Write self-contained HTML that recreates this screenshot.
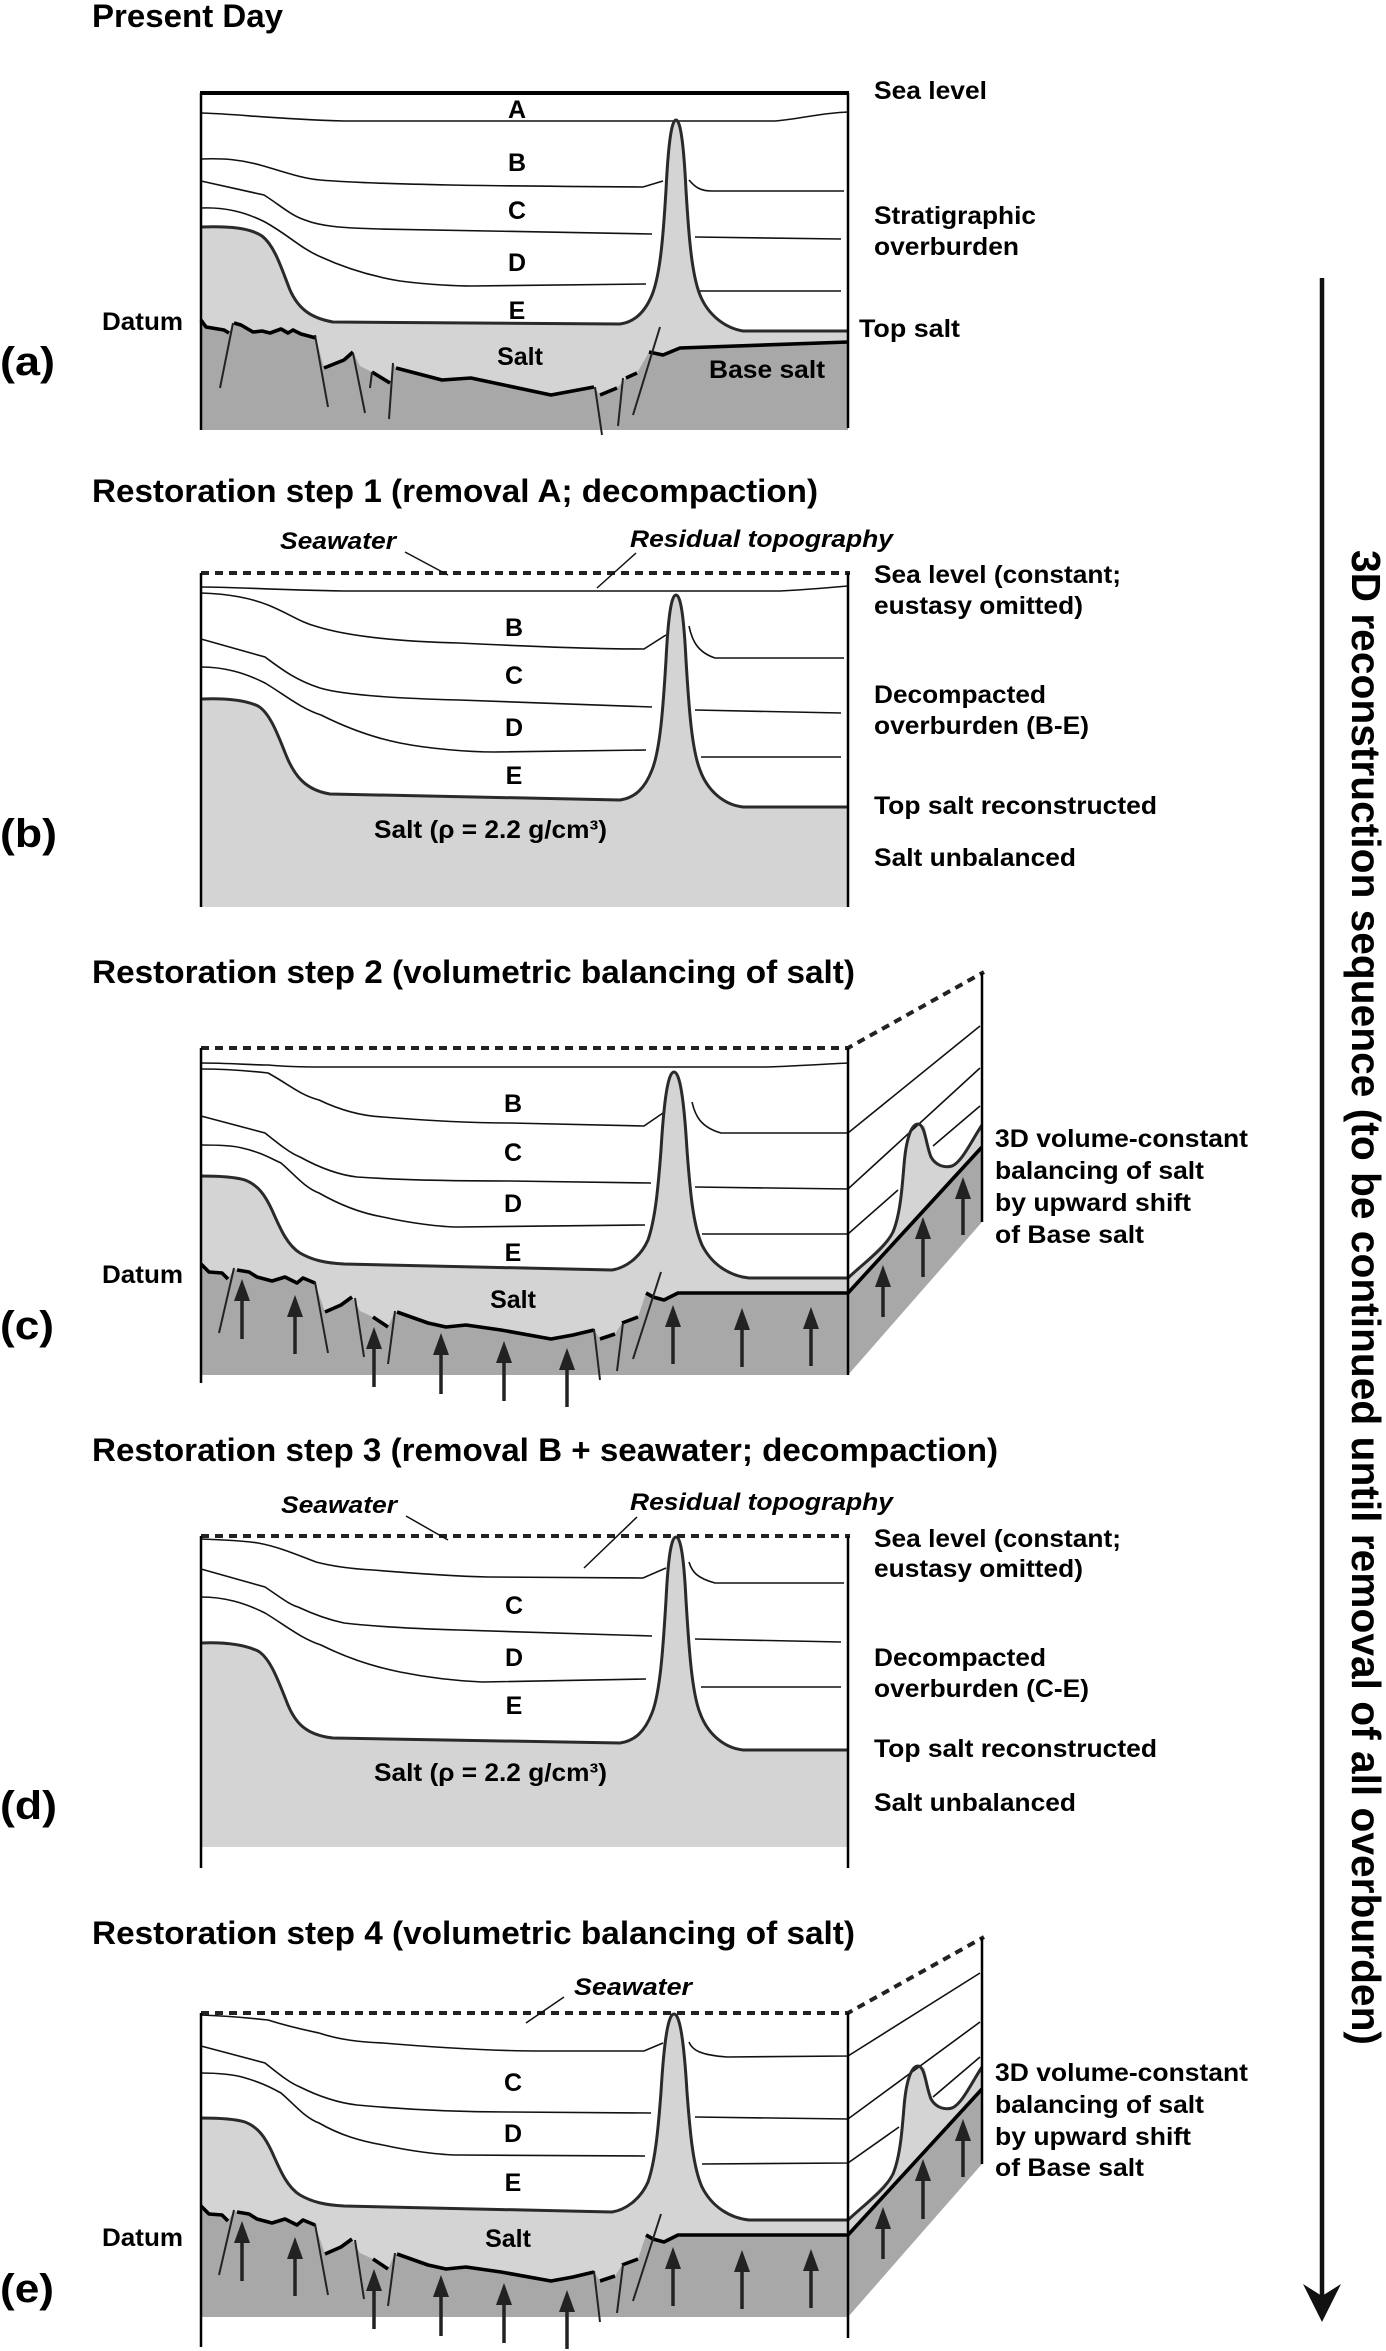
<!DOCTYPE html>
<html><head><meta charset="utf-8">
<style>
html,body{margin:0;padding:0;background:#fff}
svg{display:block}
.ln{fill:none;stroke:#111;stroke-width:1.6}
.ts{fill:none;stroke:#2a2a2a;stroke-width:3;stroke-linejoin:round}
.bs{fill:none;stroke:#000;stroke-width:3.6;stroke-linejoin:round}
.ft{fill:none;stroke:#222;stroke-width:2}
.bx{fill:none;stroke:#000;stroke-width:2.5}
.ds{fill:none;stroke:#222;stroke-width:4;stroke-dasharray:8 6}
.lg{fill:#d4d4d4}
.dg{fill:#a8a8a8}
.ar line{stroke:#222;stroke-width:3.5}
.ar polygon{fill:#222}
.ld{fill:none;stroke:#111;stroke-width:1.5}
text{font-family:"Liberation Sans",Arial,sans-serif;font-weight:bold;fill:#000}
.t{font-size:32px}
.l{font-size:25px}
.i{font-size:24px;font-style:italic}
.p{font-size:40px}
.c{text-anchor:middle}
</style></head>
<body>
<svg width="1386" height="2351" viewBox="0 0 1386 2351" xmlns="http://www.w3.org/2000/svg">

<!-- ============ PANEL A ============ -->
<text class="t" x="92" y="27" textLength="191" lengthAdjust="spacingAndGlyphs">Present Day</text>
<path class="lg" d="M201,227 C230,226 250,228 262,236 C275,246 282,270 290,290 C298,308 310,318 333,322 L620,324 C635,322 645,312 652,295 C660,275 663,240 666,190 C668,150 671,120 676,120 C681,120 684,150 686,190 C689,240 692,275 700,295 C708,315 725,328 743,331 L848,331 L848,430 L201,430 Z"/>
<polygon class="dg" points="201,320 206,327 212,328 224,330 229,333 233,323 241,325 253,332 262,331 270,333 281,329 288,333 293,330 301,334 316,338 324,368 344,360 353,352 360,366 372,372 390,383 393,363 396,368 442,380 471,378 551,395 594,387 600,395 617,388 626,378 637,373 649,352 663,355 680,348 848,342 848,430 201,430"/>
<path class="ln" d="M201,113 C240,114 270,119 344,121 L775,121 C800,119 820,113 848,112"/>
<path class="ln" d="M201,159 C225,158 242,160 260,165 C285,172 300,178 320,180 C380,185 500,186 643,187 L663,181"/>
<path class="ln" d="M689,180 C695,187 700,191 712,191 L844,191"/>
<path class="ln" d="M201,181 L264,195 C280,205 290,215 305,220 C320,226 340,228 380,229 L652,234"/>
<path class="ln" d="M695,237 L841,239"/>
<path class="ln" d="M201,208 C225,207 245,212 265,222 C290,236 300,248 321,257 C345,268 370,276 400,281 C430,285 460,286 471,286 L646,284"/>
<path class="ln" d="M700,291 L841,291"/>
<path class="ts" d="M201,227 C230,226 250,228 262,236 C275,246 282,270 290,290 C298,308 310,318 333,322 L620,324 C635,322 645,312 652,295 C660,275 663,240 666,190 C668,150 671,120 676,120 C681,120 684,150 686,190 C689,240 692,275 700,295 C708,315 725,328 743,331 L848,331"/>
<path class="bs" d="M201,320 L206,327 L212,328 L224,330 L229,333 M234,323 L241,325 L253,332 L262,331 L270,333 L281,329 L288,333 L293,330 L301,334 L316,338 M324,368 L344,360 L353,352 M372,372 L390,383 M396,368 L442,380 L471,378 L551,395 L594,387 M600,395 L617,388 M626,378 L637,373 M649,352 L663,355 L680,348 L848,342"/>
<path class="ft" d="M233,323 L220,388 M315,335 L328,407 M353,353 L365,413 M372,372 L370,388 M393,363 L389,419 M595,387 L602,435 M623,378 L618,426 M660,327 L633,415"/>
<line x1="200" y1="93" x2="849" y2="93" stroke="#000" stroke-width="4"/>
<line class="bx" x1="201" y1="93" x2="201" y2="430"/>
<line class="bx" x1="848" y1="93" x2="848" y2="428"/>
<text class="l c" x="517" y="118">A</text>
<text class="l c" x="517" y="171">B</text>
<text class="l c" x="517" y="219">C</text>
<text class="l c" x="517" y="271">D</text>
<text class="l c" x="517" y="319">E</text>
<text class="l c" x="520" y="365">Salt</text>
<text class="l" x="709" y="378" textLength="116" lengthAdjust="spacingAndGlyphs">Base salt</text>
<text class="l" x="102" y="330" textLength="81" lengthAdjust="spacingAndGlyphs">Datum</text>
<text class="p" x="0" y="375" textLength="55" lengthAdjust="spacingAndGlyphs">(a)</text>
<text class="l" x="874" y="99" textLength="113" lengthAdjust="spacingAndGlyphs">Sea level</text>
<text class="l" x="874" y="224" textLength="162" lengthAdjust="spacingAndGlyphs">Stratigraphic</text>
<text class="l" x="874" y="255" textLength="145" lengthAdjust="spacingAndGlyphs">overburden</text>
<text class="l" x="859" y="337" textLength="101" lengthAdjust="spacingAndGlyphs">Top salt</text>

<!-- ============ PANEL B ============ -->
<text class="t" x="92" y="502" textLength="726" lengthAdjust="spacingAndGlyphs">Restoration step 1 (removal A; decompaction)</text>
<path class="lg" d="M201,699 C225,698 245,700 258,706 C270,713 278,735 286,755 C294,775 305,790 330,794 L620,800 C635,798 645,788 652,770 C660,750 663,710 666,660 C668,620 671,595 676,595 C681,595 684,620 686,660 C689,710 692,750 700,770 C708,792 725,805 743,807 L848,807 L848,907 L201,907 Z"/>
<path class="ln" d="M201,587 C240,587 270,590 344,591 L780,591 C800,590 825,588 848,586"/>
<path class="ln" d="M201,593 C230,594 250,598 268,605 C290,614 300,622 315,626 C340,634 380,641 459,643 C520,646 600,649 644,649 L666,635"/>
<path class="ln" d="M689,626 C692,640 697,652 715,658 L844,658"/>
<path class="ln" d="M201,639 L265,657 C280,668 295,680 320,688 C340,694 380,698 459,700 L652,707"/>
<path class="ln" d="M695,710 L841,713"/>
<path class="ln" d="M201,667 C225,667 245,673 265,683 C285,695 300,708 321,715 C345,727 370,737 400,743 C430,749 470,752 494,752 L646,750"/>
<path class="ln" d="M701,757 L841,757"/>
<path class="ts" d="M201,699 C225,698 245,700 258,706 C270,713 278,735 286,755 C294,775 305,790 330,794 L620,800 C635,798 645,788 652,770 C660,750 663,710 666,660 C668,620 671,595 676,595 C681,595 684,620 686,660 C689,710 692,750 700,770 C708,792 725,805 743,807 L848,807"/>
<line class="ds" x1="201" y1="573" x2="850" y2="573"/>
<line class="bx" x1="201" y1="573" x2="201" y2="907"/>
<line class="bx" x1="848" y1="573" x2="848" y2="907"/>
<path class="ld" d="M405,552 L448,575 M636,553 L597,588"/>
<text class="i" x="280" y="549" textLength="116" lengthAdjust="spacingAndGlyphs">Seawater</text>
<text class="i" x="630" y="547" textLength="263" lengthAdjust="spacingAndGlyphs">Residual topography</text>
<text class="l c" x="514" y="636">B</text>
<text class="l c" x="514" y="684">C</text>
<text class="l c" x="514" y="736">D</text>
<text class="l c" x="514" y="784">E</text>
<text class="l" x="374" y="838" textLength="233" lengthAdjust="spacingAndGlyphs">Salt (ρ = 2.2 g/cm³)</text>
<text class="p" x="0" y="847" textLength="57" lengthAdjust="spacingAndGlyphs">(b)</text>
<text class="l" x="874" y="583" textLength="247" lengthAdjust="spacingAndGlyphs">Sea level (constant;</text>
<text class="l" x="874" y="614" textLength="209" lengthAdjust="spacingAndGlyphs">eustasy omitted)</text>
<text class="l" x="874" y="703" textLength="172" lengthAdjust="spacingAndGlyphs">Decompacted</text>
<text class="l" x="874" y="734" textLength="215" lengthAdjust="spacingAndGlyphs">overburden (B-E)</text>
<text class="l" x="874" y="814" textLength="283" lengthAdjust="spacingAndGlyphs">Top salt reconstructed</text>
<text class="l" x="874" y="866" textLength="202" lengthAdjust="spacingAndGlyphs">Salt unbalanced</text>

<!-- ============ PANEL C ============ -->
<text class="t" x="92" y="983" textLength="763" lengthAdjust="spacingAndGlyphs">Restoration step 2 (volumetric balancing of salt)</text>
<g>
<path class="lg" d="M201,1176 C220,1176 235,1177 245,1180 C258,1185 265,1195 272,1210 C280,1228 287,1245 300,1253 C312,1260 325,1263 344,1264 L612,1270 C625,1268 640,1258 648,1240 C655,1220 658,1190 661,1150 C664,1100 668,1072 674,1072 C680,1072 684,1100 687,1150 C690,1190 693,1225 702,1245 C712,1265 730,1276 749,1278 L848,1278 L848,1375 L201,1375 Z"/>
<polygon class="dg" points="201,1264 209,1272 222,1273 228,1279 234,1269 237,1270 249,1272 257,1277 272,1281 285,1277 297,1283 303,1278 315,1283 325,1312 341,1305 352,1297 360,1311 373,1317 388,1327 395,1311 397,1312 428,1323 446,1327 466,1325 501,1330 551,1339 573,1335 594,1330 600,1339 615,1334 622,1323 638,1317 646,1293 653,1297 664,1300 678,1293 848,1293 848,1375 201,1375"/>
<polygon class="lg" points="848,1278 883,1243 893,1232 900,1210 904,1165 911,1130 918,1124 925,1126 931,1157 940,1166 952,1166 962,1158 972,1140 982,1125 982,1147 848,1293"/>
<polygon class="dg" points="848,1293 982,1147 982,1222 848,1375"/>
</g>
<path class="ln" d="M201,1063 C230,1063 250,1065 268,1065 C290,1067 310,1067 332,1067 L765,1067 C800,1066 825,1064 848,1063"/>
<path class="ln" d="M201,1069 C230,1069 250,1071 268,1073 C290,1085 300,1095 319,1100 C340,1110 360,1116 383,1117 C420,1120 470,1123 510,1123 L644,1126 L663,1113"/>
<path class="ln" d="M692,1102 C695,1115 700,1127 721,1133 L848,1133 L980,1026"/>
<path class="ln" d="M201,1116 L265,1133 C280,1145 290,1153 300,1157 C320,1168 340,1175 357,1177 C400,1180 450,1181 510,1181 L651,1183"/>
<path class="ln" d="M695,1187 L848,1189 L980,1068"/>
<path class="ln" d="M201,1145 C220,1145 235,1146 242,1148 C260,1152 270,1158 281,1163 C295,1175 305,1188 319,1193 C340,1205 360,1213 383,1217 C410,1223 440,1227 459,1227 L645,1225"/>
<path class="ln" d="M702,1234 L848,1234 L898,1190 M933,1146 L980,1106"/>
<g>
<path class="ts" d="M201,1176 C220,1176 235,1177 245,1180 C258,1185 265,1195 272,1210 C280,1228 287,1245 300,1253 C312,1260 325,1263 344,1264 L612,1270 C625,1268 640,1258 648,1240 C655,1220 658,1190 661,1150 C664,1100 668,1072 674,1072 C680,1072 684,1100 687,1150 C690,1190 693,1225 702,1245 C712,1265 730,1276 749,1278 L848,1278"/>
<path class="ts" d="M848,1278 C865,1262 885,1248 893,1232 C900,1215 902,1190 904,1165 C906,1140 911,1124 918,1124 C925,1124 926,1145 931,1157 C936,1166 945,1168 952,1166 C962,1162 972,1140 982,1125"/>
<path class="bs" d="M201,1264 L209,1272 L222,1273 L228,1279 M237,1270 L249,1272 L257,1277 L272,1281 L285,1277 L297,1283 L303,1278 L315,1283 M325,1312 L341,1305 L352,1297 M373,1317 L388,1327 M397,1312 L428,1323 L446,1327 L466,1325 L501,1330 L551,1339 L573,1335 L594,1330 M600,1339 L615,1334 M622,1323 L638,1317 M646,1293 L653,1297 L664,1300 L678,1293 L848,1293 L982,1147"/>
<path class="ft" d="M234,1268 L219,1333 M315,1282 L328,1353 M355,1298 L364,1357 M395,1311 L388,1364 M594,1329 L600,1380 M623,1323 L617,1371 M661,1272 L633,1359"/>
<g class="ar">
<line x1="242" y1="1339" x2="242" y2="1295"/><polygon points="234,1301 242,1279 250,1301"/>
<line x1="295" y1="1354" x2="295" y2="1311"/><polygon points="287,1317 295,1295 303,1317"/>
<line x1="374" y1="1387" x2="374" y2="1343"/><polygon points="366,1349 374,1327 382,1349"/>
<line x1="441" y1="1394" x2="441" y2="1349"/><polygon points="433,1355 441,1333 449,1355"/>
<line x1="504" y1="1401" x2="504" y2="1357"/><polygon points="496,1363 504,1341 512,1363"/>
<line x1="567" y1="1407" x2="567" y2="1364"/><polygon points="559,1370 567,1348 575,1370"/>
<line x1="673" y1="1364" x2="673" y2="1321"/><polygon points="665,1327 673,1305 681,1327"/>
<line x1="742" y1="1367" x2="742" y2="1324"/><polygon points="734,1330 742,1308 750,1330"/>
<line x1="811" y1="1366" x2="811" y2="1323"/><polygon points="803,1329 811,1307 819,1329"/>
<line x1="883" y1="1317" x2="883" y2="1281"/><polygon points="875,1287 883,1265 891,1287"/>
<line x1="923" y1="1277" x2="923" y2="1233"/><polygon points="915,1239 923,1217 931,1239"/>
<line x1="963" y1="1235" x2="963" y2="1193"/><polygon points="955,1199 963,1177 971,1199"/>
</g>
</g>
<path class="ds" d="M201,1048 L848,1048 L984,972"/>
<line class="bx" x1="201" y1="1048" x2="201" y2="1383"/>
<line class="bx" x1="848" y1="1048" x2="848" y2="1375"/>
<line class="bx" x1="982" y1="973" x2="982" y2="1222"/>
<text class="l c" x="513" y="1112">B</text>
<text class="l c" x="513" y="1161">C</text>
<text class="l c" x="513" y="1212">D</text>
<text class="l c" x="513" y="1261">E</text>
<text class="l c" x="513" y="1308">Salt</text>
<text class="l" x="102" y="1283" textLength="81" lengthAdjust="spacingAndGlyphs">Datum</text>
<text class="p" x="0" y="1339" textLength="54" lengthAdjust="spacingAndGlyphs">(c)</text>
<text class="l" x="995" y="1147" textLength="253" lengthAdjust="spacingAndGlyphs">3D volume-constant</text>
<text class="l" x="995" y="1179" textLength="209" lengthAdjust="spacingAndGlyphs">balancing of salt</text>
<text class="l" x="995" y="1211" textLength="196" lengthAdjust="spacingAndGlyphs">by upward shift</text>
<text class="l" x="995" y="1243" textLength="149" lengthAdjust="spacingAndGlyphs">of Base salt</text>

<!-- ============ PANEL D ============ -->
<text class="t" x="92" y="1461" textLength="906" lengthAdjust="spacingAndGlyphs">Restoration step 3 (removal B + seawater; decompaction)</text>
<path class="lg" d="M201,1643 C225,1642 245,1645 258,1651 C270,1658 278,1680 286,1700 C294,1722 305,1735 333,1738 L620,1743 C635,1741 645,1731 652,1713 C660,1693 663,1650 666,1600 C668,1560 671,1537 676,1537 C681,1537 684,1560 686,1600 C689,1650 692,1693 700,1713 C708,1735 725,1748 743,1750 L848,1750 L848,1847 L201,1847 Z"/>
<path class="ln" d="M201,1539 C230,1540 245,1541 258,1543 C280,1547 300,1556 316,1562 C335,1567 355,1569 373,1570 C410,1573 450,1576 488,1577 L643,1578 L666,1568"/>
<path class="ln" d="M689,1562 C692,1572 697,1578 715,1583 L844,1583"/>
<path class="ln" d="M201,1569 L265,1587 C280,1597 290,1605 298,1607 C315,1615 330,1620 344,1623 C380,1627 420,1629 459,1630 L652,1636"/>
<path class="ln" d="M695,1639 L841,1642"/>
<path class="ln" d="M201,1597 C225,1597 245,1603 265,1613 C285,1625 300,1638 321,1645 C345,1657 370,1666 400,1672 C430,1678 460,1681 482,1682 L646,1679"/>
<path class="ln" d="M701,1687 L841,1687"/>
<path class="ts" d="M201,1643 C225,1642 245,1645 258,1651 C270,1658 278,1680 286,1700 C294,1722 305,1735 333,1738 L620,1743 C635,1741 645,1731 652,1713 C660,1693 663,1650 666,1600 C668,1560 671,1537 676,1537 C681,1537 684,1560 686,1600 C689,1650 692,1693 700,1713 C708,1735 725,1748 743,1750 L848,1750"/>
<line class="ds" x1="201" y1="1536" x2="850" y2="1536"/>
<line class="bx" x1="201" y1="1536" x2="201" y2="1868"/>
<line class="bx" x1="848" y1="1536" x2="848" y2="1868"/>
<path class="ld" d="M406,1516 L448,1540 M637,1517 L584,1568"/>
<text class="i" x="281" y="1513" textLength="116" lengthAdjust="spacingAndGlyphs">Seawater</text>
<text class="i" x="630" y="1510" textLength="263" lengthAdjust="spacingAndGlyphs">Residual topography</text>
<text class="l c" x="514" y="1614">C</text>
<text class="l c" x="514" y="1666">D</text>
<text class="l c" x="514" y="1714">E</text>
<text class="l" x="374" y="1781" textLength="233" lengthAdjust="spacingAndGlyphs">Salt (ρ = 2.2 g/cm³)</text>
<text class="p" x="0" y="1819" textLength="57" lengthAdjust="spacingAndGlyphs">(d)</text>
<text class="l" x="874" y="1547" textLength="247" lengthAdjust="spacingAndGlyphs">Sea level (constant;</text>
<text class="l" x="874" y="1577" textLength="209" lengthAdjust="spacingAndGlyphs">eustasy omitted)</text>
<text class="l" x="874" y="1666" textLength="172" lengthAdjust="spacingAndGlyphs">Decompacted</text>
<text class="l" x="874" y="1697" textLength="215" lengthAdjust="spacingAndGlyphs">overburden (C-E)</text>
<text class="l" x="874" y="1757" textLength="283" lengthAdjust="spacingAndGlyphs">Top salt reconstructed</text>
<text class="l" x="874" y="1811" textLength="202" lengthAdjust="spacingAndGlyphs">Salt unbalanced</text>

<!-- ============ PANEL E ============ -->
<text class="t" x="92" y="1944" textLength="763" lengthAdjust="spacingAndGlyphs">Restoration step 4 (volumetric balancing of salt)</text>
<g transform="translate(0,942)">
<path class="lg" d="M201,1176 C220,1176 235,1177 245,1180 C258,1185 265,1195 272,1210 C280,1228 287,1245 300,1253 C312,1260 325,1263 344,1264 L612,1270 C625,1268 640,1258 648,1240 C655,1220 658,1190 661,1150 C664,1100 668,1072 674,1072 C680,1072 684,1100 687,1150 C690,1190 693,1225 702,1245 C712,1265 730,1276 749,1278 L848,1278 L848,1375 L201,1375 Z"/>
<polygon class="dg" points="201,1264 209,1272 222,1273 228,1279 234,1269 237,1270 249,1272 257,1277 272,1281 285,1277 297,1283 303,1278 315,1283 325,1312 341,1305 352,1297 360,1311 373,1317 388,1327 395,1311 397,1312 428,1323 446,1327 466,1325 501,1330 551,1339 573,1335 594,1330 600,1339 615,1334 622,1323 638,1317 646,1293 653,1297 664,1300 678,1293 848,1293 848,1375 201,1375"/>
<polygon class="lg" points="848,1278 883,1243 893,1232 900,1210 904,1165 911,1130 918,1124 925,1126 931,1157 940,1166 952,1166 962,1158 972,1140 982,1125 982,1147 848,1293"/>
<polygon class="dg" points="848,1293 982,1147 982,1222 848,1375"/>
</g>
<path class="ln" d="M201,2015 C230,2016 250,2018 268,2020 C290,2027 305,2030 319,2033 C340,2040 360,2042 383,2043 C430,2047 490,2051 542,2051 L644,2051 L663,2043"/>
<path class="ln" d="M689,2042 C692,2050 700,2055 727,2057 L848,2056 L980,1973"/>
<path class="ln" d="M201,2046 L265,2063 C280,2075 290,2083 300,2087 C320,2097 340,2103 357,2105 C400,2109 450,2112 510,2112 L651,2113"/>
<path class="ln" d="M695,2117 L848,2119 L980,2022"/>
<path class="ln" d="M201,2073 C220,2073 235,2075 242,2077 C260,2082 270,2087 281,2093 C295,2105 305,2118 319,2123 C340,2135 360,2141 383,2145 C410,2151 440,2155 459,2155 L645,2156"/>
<path class="ln" d="M702,2164 L848,2163 L899,2127 M933,2097 L980,2057"/>
<g transform="translate(0,942)">
<path class="ts" d="M201,1176 C220,1176 235,1177 245,1180 C258,1185 265,1195 272,1210 C280,1228 287,1245 300,1253 C312,1260 325,1263 344,1264 L612,1270 C625,1268 640,1258 648,1240 C655,1220 658,1190 661,1150 C664,1100 668,1072 674,1072 C680,1072 684,1100 687,1150 C690,1190 693,1225 702,1245 C712,1265 730,1276 749,1278 L848,1278"/>
<path class="ts" d="M848,1278 C865,1262 885,1248 893,1232 C900,1215 902,1190 904,1165 C906,1140 911,1124 918,1124 C925,1124 926,1145 931,1157 C936,1166 945,1168 952,1166 C962,1162 972,1140 982,1125"/>
<path class="bs" d="M201,1264 L209,1272 L222,1273 L228,1279 M237,1270 L249,1272 L257,1277 L272,1281 L285,1277 L297,1283 L303,1278 L315,1283 M325,1312 L341,1305 L352,1297 M373,1317 L388,1327 M397,1312 L428,1323 L446,1327 L466,1325 L501,1330 L551,1339 L573,1335 L594,1330 M600,1339 L615,1334 M622,1323 L638,1317 M646,1293 L653,1297 L664,1300 L678,1293 L848,1293 L982,1147"/>
<path class="ft" d="M234,1268 L219,1333 M315,1282 L328,1353 M355,1298 L364,1357 M395,1311 L388,1364 M594,1329 L600,1380 M623,1323 L617,1371 M661,1272 L633,1359"/>
<g class="ar">
<line x1="242" y1="1339" x2="242" y2="1295"/><polygon points="234,1301 242,1279 250,1301"/>
<line x1="295" y1="1354" x2="295" y2="1311"/><polygon points="287,1317 295,1295 303,1317"/>
<line x1="374" y1="1387" x2="374" y2="1343"/><polygon points="366,1349 374,1327 382,1349"/>
<line x1="441" y1="1394" x2="441" y2="1349"/><polygon points="433,1355 441,1333 449,1355"/>
<line x1="504" y1="1401" x2="504" y2="1357"/><polygon points="496,1363 504,1341 512,1363"/>
<line x1="567" y1="1407" x2="567" y2="1364"/><polygon points="559,1370 567,1348 575,1370"/>
<line x1="673" y1="1364" x2="673" y2="1321"/><polygon points="665,1327 673,1305 681,1327"/>
<line x1="742" y1="1367" x2="742" y2="1324"/><polygon points="734,1330 742,1308 750,1330"/>
<line x1="811" y1="1366" x2="811" y2="1323"/><polygon points="803,1329 811,1307 819,1329"/>
<line x1="883" y1="1317" x2="883" y2="1281"/><polygon points="875,1287 883,1265 891,1287"/>
<line x1="923" y1="1277" x2="923" y2="1233"/><polygon points="915,1239 923,1217 931,1239"/>
<line x1="963" y1="1235" x2="963" y2="1193"/><polygon points="955,1199 963,1177 971,1199"/>
</g>
</g>
<path class="ds" d="M201,2013 L848,2013 L984,1937"/>
<line class="bx" x1="201" y1="2013" x2="201" y2="2347"/>
<line class="bx" x1="848" y1="2013" x2="848" y2="2338"/>
<line class="bx" x1="982" y1="1938" x2="982" y2="2164"/>
<path class="ld" d="M564,1997 L526,2023"/>
<text class="i" x="574" y="1995" textLength="118" lengthAdjust="spacingAndGlyphs">Seawater</text>
<text class="l c" x="513" y="2091">C</text>
<text class="l c" x="513" y="2142">D</text>
<text class="l c" x="513" y="2191">E</text>
<text class="l c" x="508" y="2247">Salt</text>
<text class="l" x="102" y="2246" textLength="81" lengthAdjust="spacingAndGlyphs">Datum</text>
<text class="p" x="0" y="2302" textLength="54" lengthAdjust="spacingAndGlyphs">(e)</text>
<text class="l" x="995" y="2081" textLength="253" lengthAdjust="spacingAndGlyphs">3D volume-constant</text>
<text class="l" x="995" y="2113" textLength="209" lengthAdjust="spacingAndGlyphs">balancing of salt</text>
<text class="l" x="995" y="2145" textLength="196" lengthAdjust="spacingAndGlyphs">by upward shift</text>
<text class="l" x="995" y="2176" textLength="149" lengthAdjust="spacingAndGlyphs">of Base salt</text>

<!-- ============ BIG ARROW ============ -->
<line x1="1322" y1="278" x2="1322" y2="2298" stroke="#111" stroke-width="4.5"/>
<path d="M1322,2322 L1303,2284 L1322,2296 L1341,2284 Z" fill="#111"/>
<text transform="translate(1352,550) rotate(90)" x="0" y="0" font-size="41" textLength="1495" lengthAdjust="spacingAndGlyphs">3D reconstruction sequence (to be continued until removal of all overburden)</text>

</svg>
</body></html>
